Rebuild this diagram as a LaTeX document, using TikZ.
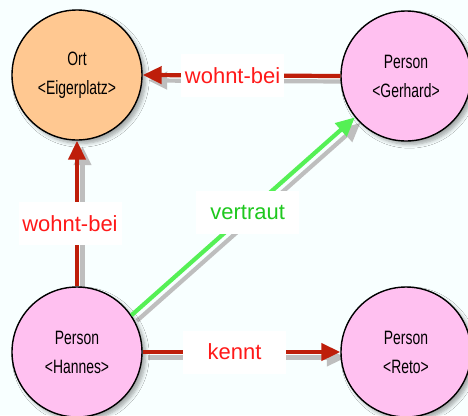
\documentclass[tikz,border=0pt]{standalone}
\usepackage{fontspec}
\setmainfont{Liberation Sans}
\newfontfamily\narrowfont[FakeStretch=0.72]{Liberation Sans}
\usepackage{tikz}
\usetikzlibrary{arrows.meta}
\usetikzlibrary{shadows.blur}
\definecolor{bgcyan}{RGB}{248,255,255}
\definecolor{ortfill}{RGB}{255,200,145}
\definecolor{personfill}{RGB}{255,192,240}
\definecolor{linkred}{RGB}{190,30,10}
\definecolor{labelred}{RGB}{255,25,25}
\definecolor{trustgreen}{RGB}{85,240,85}
\definecolor{trustlabel}{RGB}{30,200,30}
\definecolor{shadowgray}{RGB}{190,190,190}
\pgfdeclarelayer{back}
\pgfsetlayers{back,main}

\begin{document}
\begin{tikzpicture}[
    entity/.style={circle, draw=black, line width=0.8pt, minimum size=2.6cm, inner sep=0pt,
        align=center, font=\narrowfont\fontsize{11}{16.5}\selectfont,
        blur shadow={shadow xshift=0.07cm, shadow yshift=-0.07cm, shadow blur steps=6, shadow opacity=35}},
    link/.style={line width=2.4pt, -{Triangle[length=0.38cm, width=0.34cm]}},
    linkshadow/.style={link, draw=shadowgray, transform canvas={shift={(0.11,-0.11)}}},
    lbl/.style={fill=white, minimum width=2.06cm, minimum height=0.86cm, inner sep=0pt,
        font=\fontsize{12.5}{15}\selectfont}]

    \useasboundingbox (0,0) rectangle (9.36,8.3);

    % Draw entities
    \node[entity, fill=ortfill] (ort) at (1.54, 6.8) {Ort\\<Eigerplatz>};
    \node[entity, fill=personfill] (gerhard) at (8.12, 6.78) {Person\\<Gerhard>};
    \node[entity, fill=personfill] (hannes) at (1.54, 1.26) {Person\\<Hannes>};
    \node[entity, fill=personfill] (reto) at (8.12, 1.26) {Person\\<Reto>};

    % Draw shadows of the relations
    \begin{pgfonlayer}{back}
        \fill[bgcyan] (0,0) rectangle (9.36,8.3);
        \foreach \from/\to in {gerhard.west/ort.east, hannes.north/ort.south,
                               hannes.34/gerhard.219, hannes.east/reto.west} {
            \draw[linkshadow] (\from) -- (\to);
        }
    \end{pgfonlayer}

    % Draw relations
    \draw[link, draw=linkred] (gerhard.west) -- (ort.east)
        node[lbl, text=labelred, pos=0.545] (wohnt1) {wohnt-bei};
    \draw[link, draw=linkred] (hannes.north) -- (ort.south)
        node[lbl, text=labelred, pos=0.43, xshift=-0.14cm] (wohnt2) {wohnt-bei};
    \draw[link, draw=trustgreen] (hannes.34) -- (gerhard.219)
        node[lbl, text=trustlabel, pos=0.52] (vertraut) {vertraut};
    \draw[link, draw=linkred] (hannes.east) -- (reto.west)
        node[lbl, text=labelred, pos=0.465] (kennt) {kennt};
\end{tikzpicture}
\end{document}
